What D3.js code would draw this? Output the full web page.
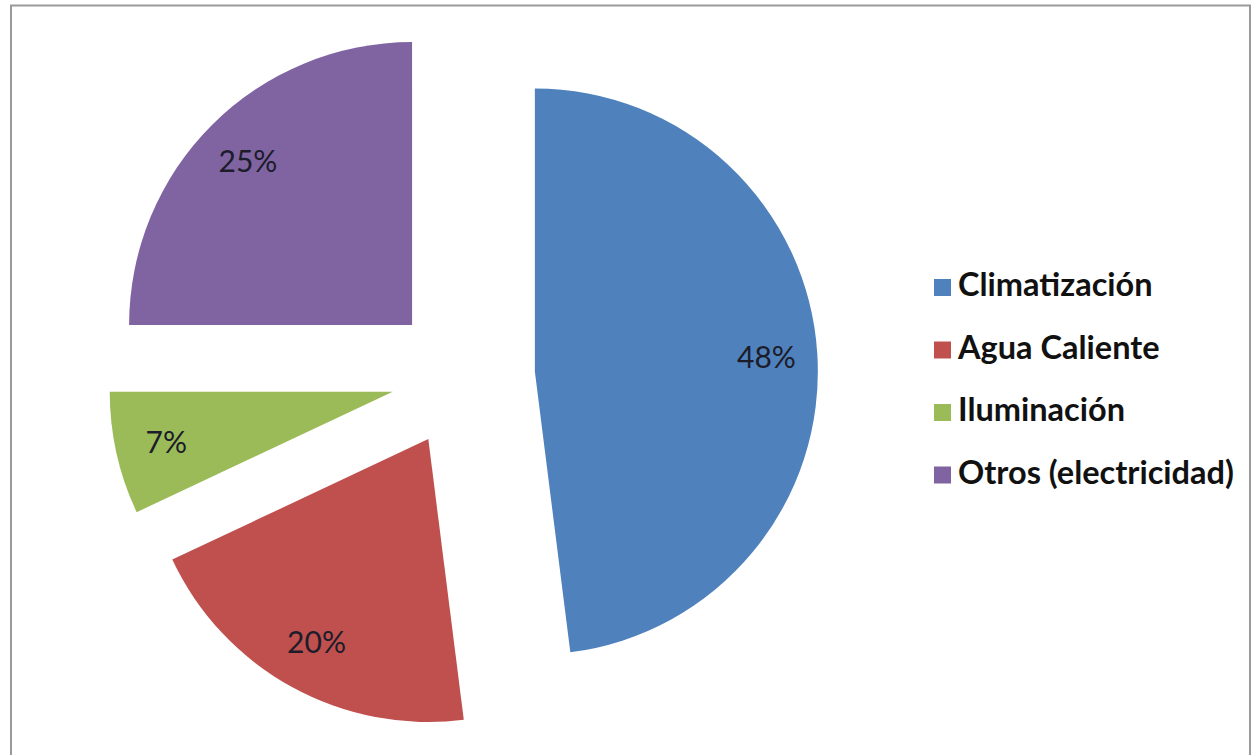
<!DOCTYPE html>
<html>
<head>
<meta charset="utf-8">
<script src="https://cdn.jsdelivr.net/npm/d3@7"></script>
<style>
  body { margin: 0; background: #fff; }
  svg { display: block; }
</style>
</head>
<body>
<div id="vis"></div>
<script>
const FRAME_WIDTH = 1254;
const FRAME_HEIGHT = 755;

// data
const categories = ["Climatización", "Agua Caliente", "Iluminación", "Otros (electricidad)"];
const shares = [48, 20, 7, 25];
const labels = ["48%", "20%", "7%", "25%"];
const colors = ["#4F81BD", "#C0504D", "#9BBB59", "#8064A2"];

const CENTER = {x: 463, y: 376};
const RADIUS = 283;
const EXPLODE = 72;

const svg = d3.select("#vis")
  .append("svg")
    .attr("width", FRAME_WIDTH)
    .attr("height", FRAME_HEIGHT);

svg.append("rect")
    .attr("width", FRAME_WIDTH)
    .attr("height", FRAME_HEIGHT)
    .attr("fill", "#fff");

// chart border
svg.append("rect")
    .attr("x", 11)
    .attr("y", 5.5)
    .attr("width", 1239)
    .attr("height", 800)
    .attr("fill", "none")
    .attr("stroke", "#9a9a9a")
    .attr("stroke-width", 2);

const pie = d3.pie().sort(null).value((d) => d);
const arcs = pie(shares);

const arc = d3.arc().innerRadius(0).outerRadius(RADIUS);

const offset = (d) => {
  const mid = (d.startAngle + d.endAngle) / 2;
  return [EXPLODE * Math.sin(mid), -EXPLODE * Math.cos(mid)];
};

const pieG = svg.append("g")
    .attr("transform", "translate(" + CENTER.x + "," + CENTER.y + ")");

const slices = pieG.selectAll("g.slice")
  .data(arcs)
  .enter()
  .append("g")
    .attr("class", "slice")
    .attr("transform", (d) => "translate(" + offset(d).join(",") + ")");

slices.append("path")
    .attr("d", arc)
    .attr("fill", (d, i) => colors[i]);

// data labels near the outer end of each slice
const labelArc = d3.arc().innerRadius(RADIUS * 0.66).outerRadius(RADIUS * 0.98);

slices.append("text")
    .attr("x", (d) => labelArc.centroid(d)[0])
    .attr("y", (d) => labelArc.centroid(d)[1])
    .attr("text-anchor", "middle")
    .attr("dy", "0.36em")
    .attr("font-family", "Lato, 'Noto Sans', sans-serif")
    .attr("font-size", "30px")
    .attr("fill", "#1c1c2a")
    .text((d, i) => labels[i]);

// legend
const legend = svg.append("g")
    .attr("transform", "translate(934,296)");

const rows = legend.selectAll("g.row")
  .data(categories)
  .enter()
  .append("g")
    .attr("class", "row")
    .attr("transform", (d, i) => "translate(0," + (i * 62.5) + ")");

rows.append("rect")
    .attr("x", 0)
    .attr("y", -17)
    .attr("width", 17)
    .attr("height", 17)
    .attr("fill", (d, i) => colors[i]);

rows.append("text")
    .attr("x", 24)
    .attr("y", 0)
    .attr("font-family", "Lato, 'Noto Sans', sans-serif")
    .attr("font-size", "32.5px")
    .attr("font-weight", "bold")
    .attr("fill", "#111")
    .text((d) => d);
</script>
</body>
</html>
